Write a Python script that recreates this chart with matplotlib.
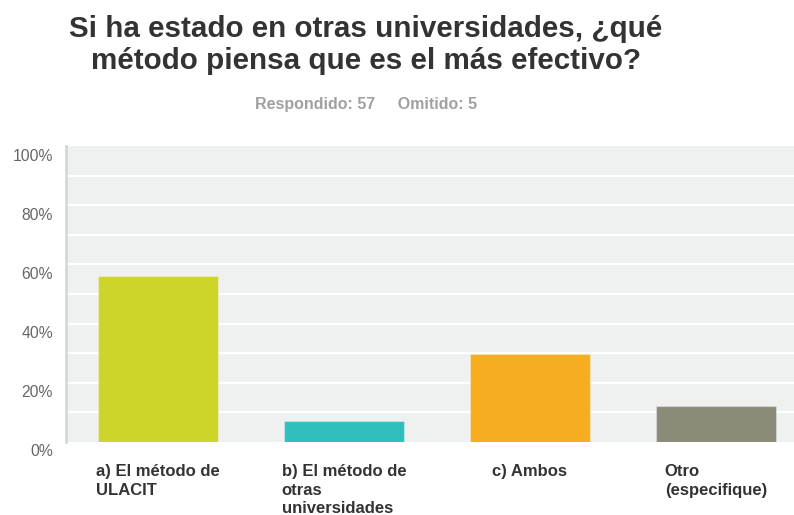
import numpy as np
import matplotlib.pyplot as plt
from matplotlib.transforms import ScaledTranslation

# data
categories = ["a) El método de\nULACIT",
              "b) El método de\notras\nuniversidades",
              "c) Ambos",
              "Otro\n(especifique)"]
percent = [56.1, 7.0, 29.8, 12.3]
colors = ["#cdd52a", "#2fbfbd", "#f6ad1f", "#8a8b78"]
y_ticks = [0, 20, 40, 60, 80, 100]
y_labels = ["0%", "20%", "40%", "60%", "80%", "100%"]

W, H = 794, 515
fig = plt.figure(figsize=(W / 100, H / 100), dpi=100)
ax = fig.add_axes([66 / W, (H - 442) / H, 1 - 66 / W, (442 - 146) / H])

x = np.arange(len(categories))
ax.set_facecolor("#eff0f0")
for v in range(10, 100, 10):
    ax.axhline(v, color="white", linewidth=1.6, zorder=1)
ax.bar(x, percent, width=0.645, color=colors, edgecolor="#ffffff55",
       linewidth=0.8, zorder=2)

ax.set_xlim(-0.495, 3.42)
ax.set_ylim(0, 100)
ax.set_yticks(y_ticks)
ax.set_yticklabels([])
ax.tick_params(axis="y", length=0)
ax.set_xticks([])
for s in ["top", "right", "bottom"]:
    ax.spines[s].set_visible(False)
ax.spines["left"].set_color("#d6d7d7")
ax.spines["left"].set_linewidth(2)

# y labels sit a little below their gridlines
off = ScaledTranslation(-13 / 100, -10 / 100, fig.dpi_scale_trans)
for v, lab in zip(y_ticks, y_labels):
    ax.text(0, v, lab, transform=ax.get_yaxis_transform() + off,
            ha="right", va="center", fontsize=11.3, color="#666666",
            family="Liberation Sans")

for i, c in enumerate(categories):
    ax.text(i, -7.5, c, ha="center", va="top", multialignment="left",
            fontsize=12, color="#333333", linespacing=1.3,
            family=["Liberation Sans Narrow", "Liberation Sans"],
            fontweight="bold")

fig.text(366 / W, 1 - 45 / H,
         "Si ha estado en otras universidades, ¿qué\nmétodo piensa que es el más efectivo?",
         ha="center", va="center", fontsize=21.3, fontweight="bold",
         color="#333333", family="Liberation Sans", linespacing=1.22)
fig.text(366 / W, 1 - 104 / H, "Respondido: 57     Omitido: 5",
         ha="center", va="center", fontsize=11.5, fontweight="bold",
         color="#a0a0a0", family="Liberation Sans")

fig.savefig("out.png", dpi=100)
